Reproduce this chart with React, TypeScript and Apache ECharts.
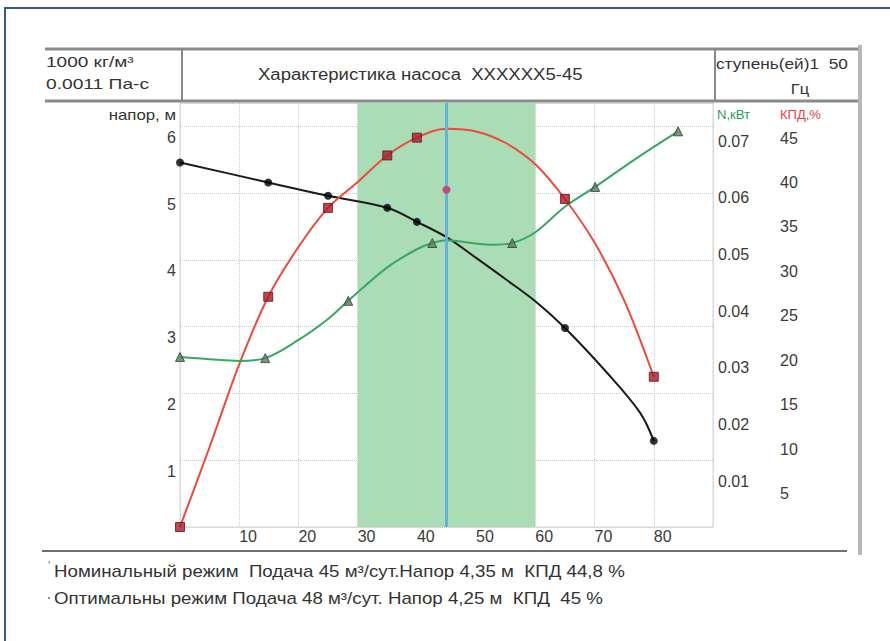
import React, { useEffect, useRef } from "react";
import * as echarts from "echarts";

// ---- data ----
// Head curve H(Q), m  (black, left axis)
const headMarkQ = [0, 14.9, 25, 35, 40, 65, 80];
const headMarkH = [5.46, 5.16, 4.96, 4.78, 4.57, 2.98, 1.29];
const headCurveQ = [0, 14.9, 25, 35, 40, 45, 50, 55, 60, 65, 72.1, 77.7, 80];
const headCurveH = [5.46, 5.16, 4.96, 4.78, 4.57, 4.34, 4.03, 3.71, 3.38, 2.98, 2.31, 1.71, 1.29];

// Efficiency КПД(Q), %  (red, right axis 2)
const effMarkQ = [0, 14.9, 25, 35, 40, 65, 80];
const effMarkE = [0, 25.9, 35.9, 41.8, 43.8, 36.9, 16.9];
const effCurveQ = [0, 5, 10, 14.9, 20, 25, 30, 35, 40, 45, 50, 55, 60, 65, 70, 75, 80];
const effCurveE = [0, 9, 18.3, 25.9, 31.5, 35.9, 38.8, 41.8, 43.8, 44.8, 44.5, 43.2, 40.8, 36.9, 32, 25.5, 16.9];

// Power N(Q), kW  (green, right axis 1)
const powMarkQ = [0, 14.4, 28.4, 42.6, 56.1, 70.1, 84.1];
const powMarkN = [0.03, 0.0298, 0.0399, 0.0501, 0.0501, 0.06, 0.0698];
const powCurveQ = [0, 5, 10, 14.4, 20, 25, 28.4, 35, 40, 42.6, 45, 50, 53, 56.1, 60, 65, 70.1, 77, 84.1];
const powCurveN = [0.03, 0.0296, 0.0293, 0.0298, 0.033, 0.0367, 0.0399, 0.0458, 0.049, 0.0501, 0.0506, 0.05, 0.0498, 0.0501, 0.052, 0.0565, 0.06, 0.065, 0.0698];

// optimum point marker
const optQ = [45];
const optH = [5.05];

// working zone and nominal flow
const zoneFrom = 30;
const zoneTo = 60;
const nominalQ = 45;

const xMax = 90;
const headMax = 6.35;
const powMax = 0.0748;
const effMax = 47.7;

const FONT = "'Liberation Sans', Arial, sans-serif";

const zip = (a: number[], b: number[]) => a.map((v, i) => [v, b[i]]);

export default function App() {
  const ref = useRef<HTMLDivElement>(null);
  useEffect(() => {
    if (!ref.current) return;
    const chart = echarts.init(ref.current, undefined, { renderer: "svg" });
    const grid = "#c9c9c9";
    const labelBase = { fontSize: 16, color: "#3a3a3a", fontFamily: FONT };
    const txt = (x: number, y: number, text: string, fontSize: number, sx: number, extra: any = {}) => ({
      type: "text",
      x,
      y,
      scaleX: sx,
      style: { text, fontSize, fill: "#333", fontFamily: FONT, verticalAlign: "middle", ...extra },
    });
    const option: any = {
      animation: false,
      backgroundColor: "#ffffff",
      grid: { left: 180, right: 177, top: 103, bottom: 114, show: true, borderColor: "#d6d6d6", borderWidth: 1 },
      xAxis: {
        type: "value",
        min: 0,
        max: xMax,
        interval: 10,
        axisLine: { show: false },
        axisTick: { show: false },
        axisLabel: {
          ...labelBase,
          align: "left",
          margin: 1,
          formatter: (v: number) => (v > 0 && v < xMax ? String(v) : ""),
        },
        splitLine: { show: true, lineStyle: { type: "dotted", color: grid, width: 1 } },
      },
      yAxis: [
        {
          type: "value",
          min: 0,
          max: headMax,
          interval: 1,
          position: "left",
          axisLine: { show: false },
          axisTick: { show: false },
          axisLabel: {
            ...labelBase,
            margin: 4,
            verticalAlign: "top",
            lineHeight: 22,
            formatter: (v: number) => (v > 0 && Math.abs(v - Math.round(v)) < 1e-6 ? String(Math.round(v)) : ""),
          },
          splitLine: { show: true, lineStyle: { type: "dotted", color: grid, width: 1 } },
        },
        {
          type: "value",
          min: 0,
          max: powMax,
          interval: 0.01,
          position: "right",
          axisLine: { show: false },
          axisTick: { show: false },
          axisLabel: {
            ...labelBase,
            margin: 5,
            align: "left",
            verticalAlign: "top",
            lineHeight: 22,
            formatter: (v: number) => (v > 0.005 && v < 0.0745 ? v.toFixed(2) : ""),
          },
          splitLine: { show: false },
        },
        {
          type: "value",
          min: 0,
          max: effMax,
          interval: 5,
          position: "right",
          offset: 63,
          axisLine: { show: false },
          axisTick: { show: false },
          axisLabel: {
            ...labelBase,
            margin: 4,
            align: "left",
            verticalAlign: "top",
            lineHeight: 22,
            formatter: (v: number) => (v > 0 && v <= 45.01 ? String(Math.round(v)) : ""),
          },
          splitLine: { show: false },
        },
      ],
      series: [
        {
          name: "zone",
          type: "line",
          data: [],
          z: 1,
          silent: true,
          markArea: {
            silent: true,
            itemStyle: { color: "#aadcb6", opacity: 1 },
            data: [[{ xAxis: zoneFrom }, { xAxis: zoneTo }]],
          },
          markLine: {
            silent: true,
            symbol: ["none", "none"],
            label: { show: false },
            lineStyle: { color: "#62b2d9", width: 3, type: "solid" },
            data: [{ xAxis: nominalQ }],
          },
        },
        {
          name: "Н curve",
          type: "line",
          smooth: 0.35,
          showSymbol: false,
          z: 3,
          lineStyle: { color: "#1a1a1a", width: 2 },
          data: zip(headCurveQ, headCurveH),
        },
        {
          name: "КПД curve",
          type: "line",
          yAxisIndex: 2,
          smooth: 0.35,
          showSymbol: false,
          z: 3,
          lineStyle: { color: "#ec4a3c", width: 2 },
          data: zip(effCurveQ, effCurveE),
        },
        {
          name: "N curve",
          type: "line",
          yAxisIndex: 1,
          smooth: 0.35,
          showSymbol: false,
          z: 3,
          lineStyle: { color: "#3aa564", width: 2 },
          data: zip(powCurveQ, powCurveN),
        },
        {
          name: "Н",
          type: "scatter",
          symbol: "circle",
          symbolSize: 8,
          z: 4,
          itemStyle: { color: "#000000" },
          data: zip(headMarkQ, headMarkH),
        },
        {
          name: "КПД",
          type: "scatter",
          yAxisIndex: 2,
          symbol: "rect",
          symbolSize: 9,
          z: 4,
          itemStyle: { color: "#a81a2c", borderColor: "#6a0f1a", borderWidth: 1 },
          data: zip(effMarkQ, effMarkE),
        },
        {
          name: "N",
          type: "scatter",
          yAxisIndex: 1,
          symbol: "triangle",
          symbolSize: 9,
          z: 4,
          itemStyle: { color: "#5d7a62", borderColor: "#2d3f30", borderWidth: 1 },
          data: zip(powMarkQ, powMarkN),
        },
        {
          name: "opt",
          type: "scatter",
          symbol: "circle",
          symbolSize: 8,
          z: 5,
          itemStyle: { color: "#c8467f", opacity: 1 },
          data: zip(optQ, optH),
        },
      ],
      graphic: [
        // outer frame (top + left)
        { type: "line", shape: { x1: 4, y1: 8, x2: 890, y2: 8 }, style: { stroke: "#3a5a82", lineWidth: 2 } },
        { type: "line", shape: { x1: 5, y1: 8, x2: 5, y2: 641 }, style: { stroke: "#3a5a82", lineWidth: 2 } },
        // header table
        { type: "line", shape: { x1: 45, y1: 49, x2: 860, y2: 49 }, style: { stroke: "#8a8a8a", lineWidth: 3 } },
        { type: "line", shape: { x1: 45, y1: 101, x2: 860, y2: 101 }, style: { stroke: "#8a8a8a", lineWidth: 3 } },
        { type: "line", shape: { x1: 182, y1: 49, x2: 182, y2: 101 }, style: { stroke: "#8a8a8a", lineWidth: 2 } },
        { type: "line", shape: { x1: 715, y1: 49, x2: 715, y2: 101 }, style: { stroke: "#8a8a8a", lineWidth: 2 } },
        { type: "line", shape: { x1: 860, y1: 45, x2: 860, y2: 555 }, style: { stroke: "#b7b7b7", lineWidth: 4 } },
        { type: "line", shape: { x1: 42, y1: 551, x2: 847, y2: 551 }, style: { stroke: "#707070", lineWidth: 2 } },
        // header texts
        txt(46, 62, "1000 кг/м³", 15, 1.27),
        txt(46, 84, "0.0011 Па-с", 15, 1.28),
        txt(258, 74, "Характеристика насоса  XXXXXX5-45", 16, 1.16),
        txt(716, 63, "ступень(ей)1  50", 15, 1.15),
        txt(800, 89, "Гц", 15, 1.1, { align: "center" }),
        // axis names
        txt(176, 115, "напор, м", 14, 1.2, { align: "right" }),
        txt(717, 114, "N,кВт", 13, 1, { fill: "#2f9a55" }),
        txt(780, 114, "КПД,%", 13, 1, { fill: "#e8413f" }),
        // footer notes
        txt(48, 566, "'", 12, 1, { fill: "#777" }),
        txt(54, 571, "Номинальный режим  Подача 45 м³/сут.Напор 4,35 м  КПД 44,8 %", 16, 1.17),
        { type: "circle", shape: { cx: 49, cy: 598, r: 1.2 }, style: { fill: "#888" } },
        txt(54, 598, "Оптимальны режим Подача 48 м³/сут. Напор 4,25 м  КПД  45 %", 16, 1.17),
      ],
    };
    chart.setOption(option);
    return () => chart.dispose();
  }, []);
  return <div ref={ref} style={{ width: 890, height: 641, position: "absolute", left: 0, top: 0 }} />;
}
